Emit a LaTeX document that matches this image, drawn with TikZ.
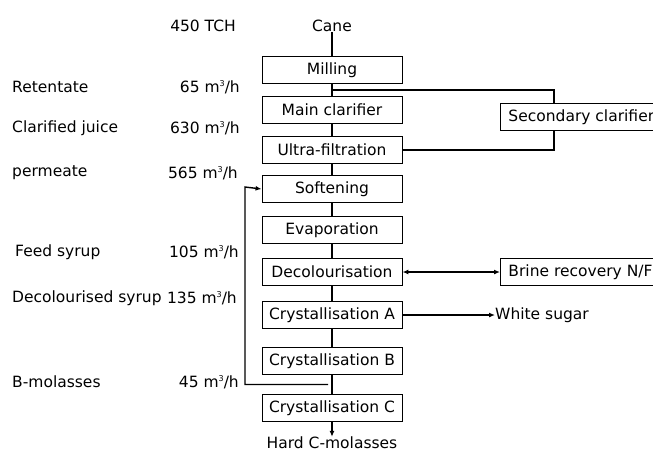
\documentclass[tikz,border=0pt]{standalone}
\usepackage{fontspec}
\setmainfont{DejaVu Sans}
\usetikzlibrary{arrows.meta,calc}
\newcommand{\cubic}{m\raisebox{0.75ex}{\fontsize{8}{8}\selectfont 3}/h}

\begin{document}
\begin{tikzpicture}[x=1pt,y=-1pt,
  every node/.style={font=\fontsize{15.5}{18}\selectfont,inner sep=0pt},
  proc/.style={draw,line width=0.9pt,minimum width=140pt,minimum height=27pt},
  side/.style={draw,line width=0.9pt,minimum height=27pt,inner xsep=8pt,anchor=west},
  flow/.style={line width=1.4pt},
  tip/.style={-{Latex[length=6pt,width=5pt]}}]
\useasboundingbox (0,0) rectangle (653,453);
% main line
\node (cane) at (332,26) {Cane};
\node[proc] (mill) at (332,70) {Milling};
\node[proc] (mainc) at (332,110) {Main clarifier};
\node[proc] (ultra) at (332,150) {Ultra-filtration};
\node[proc] (soft) at (332,189) {Softening};
\node[proc] (evap) at (332,230) {Evaporation};
\node[proc] (decol) at (332,272) {Decolourisation};
\node[proc] (crysA) at (332,315) {Crystallisation A};
\node[proc] (crysB) at (332,361) {Crystallisation B};
\node[proc] (crysC) at (332,408) {Crystallisation C};
\node (hardc) at (332,443) {Hard C-molasses};
% side units
\node[side] (secc) at (500,117) {Secondary clarifier};
\node[side] (brine) at (500,272) {Brine recovery N/F};
\node[anchor=west] (white) at (495,315) {White sugar};
% left column
\node[anchor=east] (tch) at (236,26) {450 TCH};
\node[anchor=west] (ret) at (12,87) {Retentate};
\node[anchor=east] (retv) at (240,87) {65 \cubic};
\node[anchor=west] (cj) at (12,128) {Clarified juice};
\node[anchor=east] (cjv) at (240,128) {630 \cubic};
\node[anchor=west] (perm) at (12,173) {permeate};
\node[anchor=east] (permv) at (238,173) {565 \cubic};
\node[anchor=west] (feed) at (15,252) {Feed syrup};
\node[anchor=east] (feedv) at (239,252) {105 \cubic};
\node[anchor=west] (dsyr) at (12,298) {Decolourised syrup};
\node[anchor=east] (dsyrv) at (237,298) {135 \cubic};
\node[anchor=west] (bmol) at (12,382) {B-molasses};
\node[anchor=east] (bmolv) at (239,382) {45 \cubic};
% connectors
\draw[flow] (cane) -- (mill);
\draw[flow] (mill) -- (mainc);
\draw[flow] (mainc) -- (ultra);
\draw[flow] (ultra) -- (soft);
\draw[flow] (soft) -- (evap);
\draw[flow] (evap) -- (decol);
\draw[flow] (decol) -- (crysA);
\draw[flow] (crysA) -- (crysB);
\draw[flow] (crysB) -- (crysC);
\draw[flow,tip] (crysC) -- (hardc);
\coordinate (split) at ($(mill.south)+(0,6)$);
\draw[flow] (split) -| (secc.north -| 554,0);
\draw[flow] (secc.south -| 554,0) |- (ultra.east);
\draw[flow,{Latex[length=6pt,width=5pt]}-{Latex[length=6pt,width=5pt]}] (decol) -- (brine);
\draw[flow,tip] (crysA) -- (white);
\coordinate (recyc) at ($(crysB.south)!0.5!(crysC.north)+(-4,0)$);
\draw[flow,tip] (recyc) -| (245,187) -- (soft.west);
\end{tikzpicture}
\end{document}
